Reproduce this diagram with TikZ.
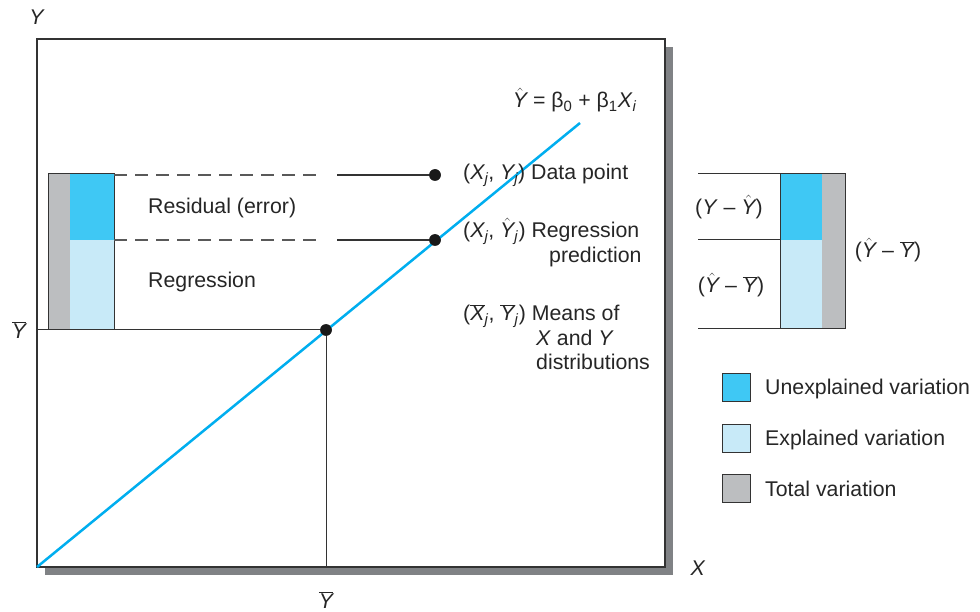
\documentclass[tikz,border=0pt]{standalone}
\usepackage{fontspec}
\setmainfont{Liberation Sans}
\definecolor{shadowgray}{HTML}{808285}
\definecolor{framegray}{HTML}{333333}
\definecolor{linecyan}{HTML}{00AEEF}
\definecolor{darkcyan}{HTML}{3FC8F4}
\definecolor{lightcyan}{HTML}{C8EAF8}
\definecolor{barsgray}{HTML}{BCBEC0}
\newcommand{\hY}{\ensuremath{\hat{\mbox{\itshape Y}}}}
\newcommand{\bY}{\ensuremath{\overline{\mbox{\itshape Y}}}}
\newcommand{\bX}{\ensuremath{\overline{\mbox{\itshape X}}}}
\begin{document}
\begin{tikzpicture}[x=1pt,y=-1pt,
  font=\fontsize{21.3}{25}\selectfont,
  txt/.style={anchor=base west, inner sep=0pt, text=black!85},
  txtc/.style={anchor=base, inner sep=0pt, text=black!85},
  frameline/.style={draw=framegray, line width=1.2pt},
  thin/.style={draw=framegray, line width=1pt},
  dashline/.style={draw=black!65, line width=1.2pt, dash pattern=on 13pt off 8pt},
  solidline/.style={draw=black!80, line width=1.2pt},
  regline/.style={draw=linecyan, line width=2.5pt},
  dot/.style={circle, fill=black!90, inner sep=0pt, minimum size=11.5pt},
  legbox/.style={draw=framegray, line width=1pt, minimum width=28pt, minimum height=28pt, inner sep=0pt}]
\useasboundingbox (0,0) rectangle (980,612);
% frame and shadow
\fill[shadowgray] (45,47) rectangle (673,575);
\fill[white] (37,39) rectangle (665,567);
\draw[frameline] (37,39) rectangle (665,567);
% coordinates
\coordinate (orig) at (37,567);
\coordinate (lineend) at (580,123);
\node[dot] (mean) at (326,330) {};
\node[dot] (pred) at (435,240) {};
\node[dot] (data) at (435,175) {};
\coordinate (ybarleft) at (37,330);
\coordinate (xbarfoot) at (326,567);
% mean lines
\draw[thin] (ybarleft) -- (mean.center);
\draw[thin] (mean.center) -- (xbarfoot);
% regression line
\draw[regline] (orig) -- (lineend);
\node[dot] at (mean.center) {};
% left bar
\fill[barsgray] (48,174) rectangle (70,330);
\fill[darkcyan] (70,174) rectangle (114,240);
\fill[lightcyan] (70,240) rectangle (114,330);
\draw[thin] (48,174) rectangle (114,330);
% dashed / solid connectors
\coordinate (d1a) at (114,175);
\coordinate (d1b) at (322,175);
\coordinate (s1a) at (337,175);
\coordinate (d2a) at (114,240);
\coordinate (d2b) at (322,240);
\coordinate (s2a) at (337,240);
\draw[dashline] (d1a) -- (d1b);
\draw[solidline] (s1a) -- (data.center);
\draw[dashline] (d2a) -- (d2b);
\draw[solidline] (s2a) -- (pred.center);
\node[dot] at (data.center) {};
\node[dot] at (pred.center) {};
% labels inside chart
\node[txt] (resid) at (148,214) {Residual (error)};
\node[txt] (regr) at (148,288) {Regression};
\node[txt, anchor=base east] (eq) at (637,108) {\hY\ = β\textsubscript{0} + β\textsubscript{1}\textit{X}\textsubscript{\textit{i}}};
\node[txt] (l1) at (463,180) {(\textit{X\textsubscript{j}}, \textit{Y\textsubscript{j}}) Data point};
\node[txt] (l2) at (463,238) {(\textit{X\textsubscript{j}}, \hY\textsubscript{\textit{j}}) Regression};
\node[txt] (l2c) at (549,263) {prediction};
\node[txt] (l3) at (463,321) {(\bX\textsubscript{\textit{j}}, \bY\textsubscript{\textit{j}}) Means of};
\node[txt] (l3c) at (536,345) {\textit{X} and \textit{Y}};
\node[txt] (l3d) at (536,370) {distributions};
% axis labels
\node[txtc] (ylab) at (37,25) {\textit{Y}};
\node[txtc] (xlab) at (698,575) {\textit{X}};
\node[txtc] (ybl) at (19,338) {\bY};
\node[txtc] (ybb) at (326,608) {\bY};
% right bar
\coordinate (r1) at (698,174);
\coordinate (r2) at (698,240);
\coordinate (r3) at (698,329);
\coordinate (r1e) at (780,174);
\coordinate (r2e) at (780,240);
\coordinate (r3e) at (780,329);
\fill[darkcyan] (780,174) rectangle (822,240);
\fill[lightcyan] (780,240) rectangle (822,329);
\fill[barsgray] (822,174) rectangle (845,329);
\draw[thin] (780,174) rectangle (845,329);
\draw[thin] (r1) -- (r1e);
\draw[thin] (r2) -- (r2e);
\draw[thin] (r3) -- (r3e);
\node[txtc] (rl1) at (729,215) {(\textit{Y} – \hY)};
\node[txtc] (rl2) at (731,293) {(\hY\ – \bY)};
\node[txtc] (rl3) at (888,258) {(\hY\ – \bY)};
% legend
\node[legbox, fill=darkcyan] (lg1) at (736,387) {};
\node[legbox, fill=lightcyan] (lg2) at (736,438) {};
\node[legbox, fill=barsgray] (lg3) at (736,488) {};
\node[txt] (lt1) at (765,394) {Unexplained variation};
\node[txt] (lt2) at (765,445) {Explained variation};
\node[txt] (lt3) at (765,496) {Total variation};
\end{tikzpicture}
\end{document}
